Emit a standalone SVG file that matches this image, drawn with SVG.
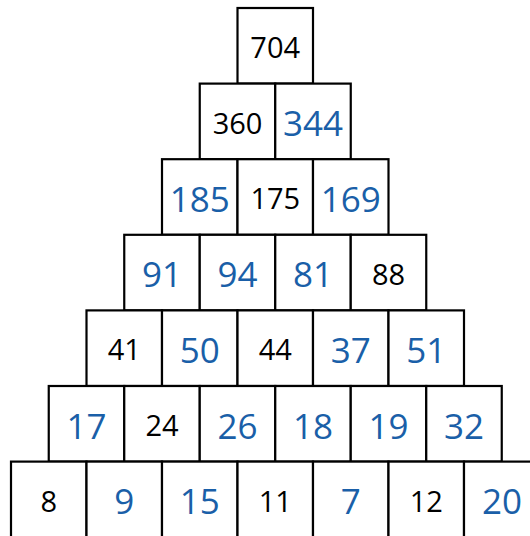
<svg xmlns="http://www.w3.org/2000/svg" width="530" height="536" viewBox="0 0 530 536">
<style>
rect{fill:#fff;stroke:#000;stroke-width:2.2}
text{font-family:"Open Sans","Noto Sans",sans-serif;text-anchor:middle}
.k{font-size:29px;fill:#000}
.b{font-size:35px;fill:#1a5fa8}
</style>
<g id="r1"><rect x="237.5" y="8" width="75.5" height="75.6"/><text class="k" x="275.2" y="58">704</text></g>
<g id="r2">
<rect x="199.75" y="83.6" width="75.5" height="75.6"/><text class="k" x="237.5" y="133.6">360</text>
<rect x="275.25" y="83.6" width="75.5" height="75.6"/><text class="b" x="313" y="136.1">344</text>
</g>
<g id="r3">
<rect x="162" y="159.2" width="75.5" height="75.6"/><text class="b" x="199.75" y="211.7">185</text>
<rect x="237.5" y="159.2" width="75.5" height="75.6"/><text class="k" x="275.25" y="209.2">175</text>
<rect x="313" y="159.2" width="75.5" height="75.6"/><text class="b" x="350.75" y="211.7">169</text>
</g>
<g id="r4">
<rect x="124.25" y="234.8" width="75.5" height="75.6"/><text class="b" x="162" y="287.3">91</text>
<rect x="199.75" y="234.8" width="75.5" height="75.6"/><text class="b" x="237.5" y="287.3">94</text>
<rect x="275.25" y="234.8" width="75.5" height="75.6"/><text class="b" x="313" y="287.3">81</text>
<rect x="350.75" y="234.8" width="75.5" height="75.6"/><text class="k" x="388.5" y="284.8">88</text>
</g>
<g id="r5">
<rect x="86.5" y="310.4" width="75.5" height="75.6"/><text class="k" x="124.25" y="360.4">41</text>
<rect x="162" y="310.4" width="75.5" height="75.6"/><text class="b" x="199.75" y="362.9">50</text>
<rect x="237.5" y="310.4" width="75.5" height="75.6"/><text class="k" x="275.25" y="360.4">44</text>
<rect x="313" y="310.4" width="75.5" height="75.6"/><text class="b" x="350.75" y="362.9">37</text>
<rect x="388.5" y="310.4" width="75.5" height="75.6"/><text class="b" x="426.25" y="362.9">51</text>
</g>
<g id="r6">
<rect x="48.75" y="386" width="75.5" height="75.6"/><text class="b" x="86.5" y="438.5">17</text>
<rect x="124.25" y="386" width="75.5" height="75.6"/><text class="k" x="162" y="436">24</text>
<rect x="199.75" y="386" width="75.5" height="75.6"/><text class="b" x="237.5" y="438.5">26</text>
<rect x="275.25" y="386" width="75.5" height="75.6"/><text class="b" x="313" y="438.5">18</text>
<rect x="350.75" y="386" width="75.5" height="75.6"/><text class="b" x="388.5" y="438.5">19</text>
<rect x="426.25" y="386" width="75.5" height="75.6"/><text class="b" x="464" y="438.5">32</text>
</g>
<g id="r7">
<rect x="11" y="461.6" width="75.5" height="75.6"/><text class="k" x="48.75" y="511.6">8</text>
<rect x="86.5" y="461.6" width="75.5" height="75.6"/><text class="b" x="124.25" y="514.1">9</text>
<rect x="162" y="461.6" width="75.5" height="75.6"/><text class="b" x="199.75" y="514.1">15</text>
<rect x="237.5" y="461.6" width="75.5" height="75.6"/><text class="k" x="275.25" y="511.6">11</text>
<rect x="313" y="461.6" width="75.5" height="75.6"/><text class="b" x="350.75" y="514.1">7</text>
<rect x="388.5" y="461.6" width="75.5" height="75.6"/><text class="k" x="426.25" y="511.6">12</text>
<rect x="464" y="461.6" width="75.5" height="75.6"/><text class="b" x="502" y="514.1">20</text>
</g>
</svg>
